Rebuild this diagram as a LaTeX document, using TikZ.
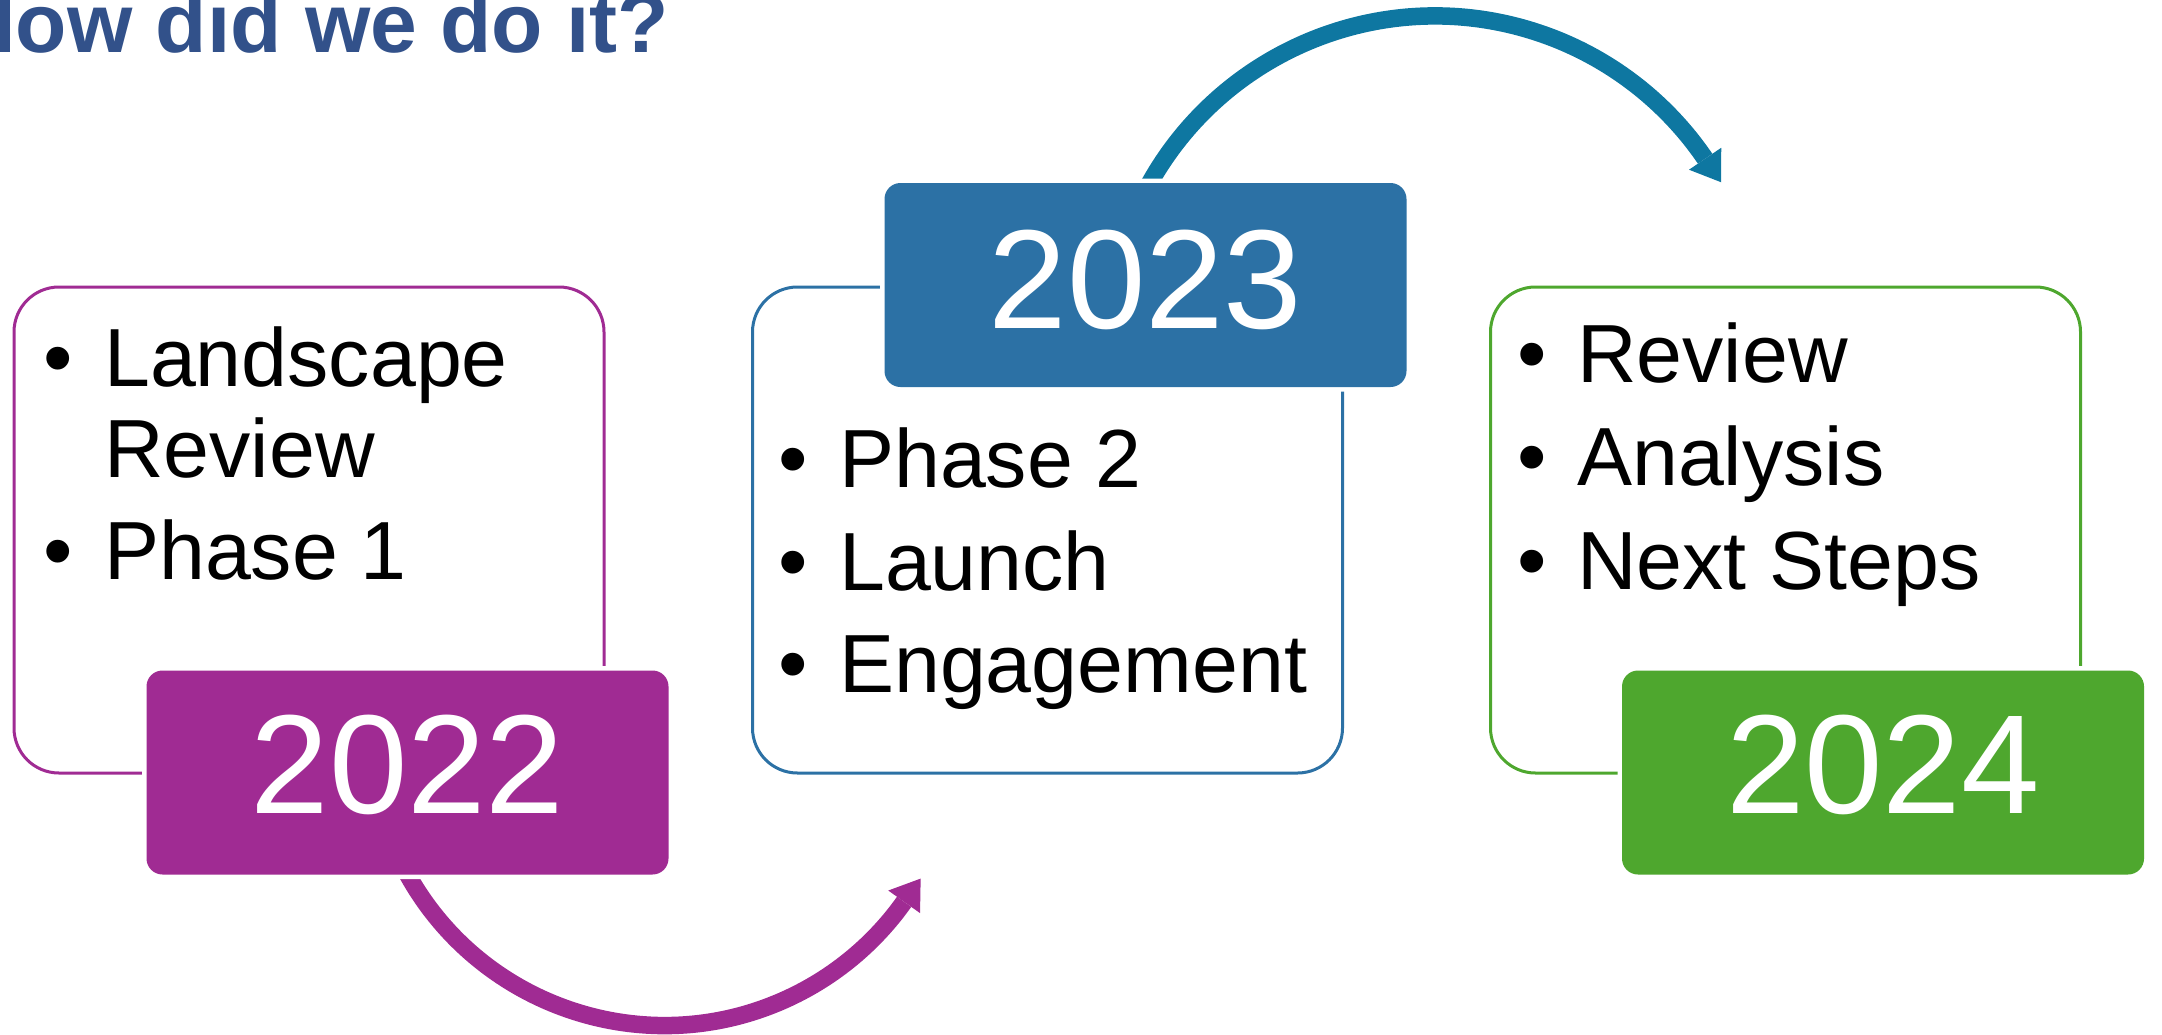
\documentclass[tikz,border=0pt]{standalone}
\usepackage{fontspec}
\setmainfont{Liberation Sans}
\usetikzlibrary{calc}
\definecolor{cpurple}{HTML}{A02B93}
\definecolor{cblue}{HTML}{2C71A5}
\definecolor{carc}{HTML}{0E77A1}
\definecolor{cgreen}{HTML}{4EA72E}
\definecolor{ctitle}{HTML}{32518A}
\begin{document}
\begin{tikzpicture}[x=1pt,y=1pt,
 outlinebox/.style={draw=#1, line width=3pt, rounded corners=45pt, minimum width=590pt, minimum height=486pt, inner sep=0pt},
 yearbox/.style={fill=#1, preaction={draw=white, line width=9pt}, rounded corners=16pt, minimum width=522pt, minimum height=204pt, inner sep=0pt},
 yeartext/.style={text=white, font=\fontsize{141}{160}\selectfont, inner sep=0pt, anchor=base},
 itemtext/.style={font=\fontsize{82.5}{99}\selectfont, inner sep=0pt, anchor=base west},
 bullettext/.style={font=\fontsize{84}{99}\selectfont, inner sep=0pt, anchor=base},
 arcline/.style={draw=#1, line width=17.5pt, line cap=butt},
]
\useasboundingbox (0,0) rectangle (2162,-1034);
\clip (0,0) rectangle (2162,-1034);

% title
\node[anchor=base west, font=\fontsize{84}{100}\selectfont\bfseries, text=ctitle, inner sep=0pt] (title) at (-45,-52) {How did we do it?};

% outline boxes
\node[outlinebox=cpurple] (o1) at (309,-530) {};
\node[outlinebox=cblue] (o2) at (1047.5,-530) {};
\node[outlinebox=cgreen] (o3) at (1785.5,-530) {};

% arcs
\coordinate (pc) at (664.5,-731.5);
\draw[arcline=cpurple] ($(pc)+(205:294)$) arc[start angle=205, end angle=324.6, radius=294];
\coordinate (pm) at ($(pc)+(324.6:294)$);
\fill[cpurple] ($(pm)+(324.6:19.5)$) -- ($(pm)+(54.6:28.5)$) -- ($(pm)+(144.6:19.5)$) -- cycle;

\coordinate (bc) at (1435,-343);
\draw[arcline=carc] ($(bc)+(160:327)$) arc[start angle=160, end angle=34.3, radius=327];
\coordinate (bm) at ($(bc)+(34.3:327)$);
\fill[carc] ($(bm)+(34.3:19.5)$) -- ($(bm)+(-55.7:28.5)$) -- ($(bm)+(214.3:19.5)$) -- cycle;

% year boxes
\node[yearbox=cpurple] (b2022) at (407.5,-772.5) {};
\node[yearbox=cblue] (b2023) at (1145.5,-285) {};
\node[yearbox=cgreen] (b2024) at (1883,-772.5) {};
\node[yeartext] (t2022) at ($(b2022.center)+(0,-41)$) {2022};
\node[yeartext] (t2023) at ($(b2023.center)+(0,-43)$) {2023};
\node[yeartext] (t2024) at ($(b2024.center)+(0,-41)$) {2024};

% box 1 items
\node[bullettext] (d11) at (58,-386) {•};
\node[itemtext] (i11) at (104,-386) {Landscape};
\node[itemtext] (i12) at (104,-477) {Review};
\node[bullettext] (d12) at (58,-579) {•};
\node[itemtext] (i13) at (104,-579) {Phase 1};

% box 2 items
\node[bullettext] (d21) at (793,-487) {•};
\node[itemtext] (i21) at (839,-487) {Phase 2};
\node[bullettext] (d22) at (793,-590) {•};
\node[itemtext] (i22) at (839,-590) {Launch};
\node[bullettext] (d23) at (793,-692) {•};
\node[itemtext] (i23) at (839,-692) {Engagement};

% box 3 items
\node[bullettext] (d31) at (1532,-382) {•};
\node[itemtext] (i31) at (1577,-382) {Review};
\node[bullettext] (d32) at (1532,-485) {•};
\node[itemtext] (i32) at (1577,-485) {Analysis};
\node[bullettext] (d33) at (1532,-589) {•};
\node[itemtext] (i33) at (1577,-589) {Next Steps};
\end{tikzpicture}
\end{document}
